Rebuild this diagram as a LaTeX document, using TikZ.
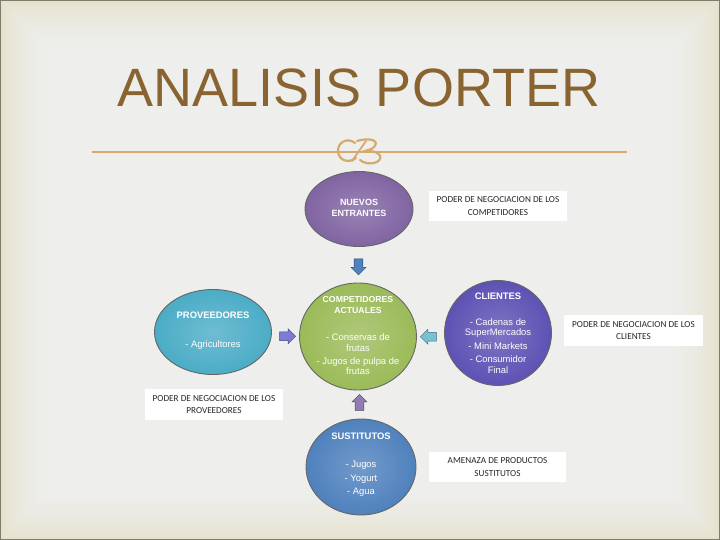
\documentclass[tikz,border=0pt]{standalone}
\usepackage{fontspec}
\setmainfont{Liberation Sans}
\newfontfamily\calib{Carlito}
\usetikzlibrary{shapes.geometric,shapes.arrows,calc}
\definecolor{bgc}{HTML}{EEEEED}
\definecolor{bgedge}{HTML}{E2E0C6}
\definecolor{framec}{HTML}{7D7D69}
\definecolor{titlec}{HTML}{8A6430}
\definecolor{rulec}{HTML}{D6AA6C}
\definecolor{cpurple}{HTML}{8064A2}
\definecolor{cgreen}{HTML}{9BBB59}
\definecolor{cindigo}{HTML}{5D52B4}
\definecolor{cteal}{HTML}{4BACC6}
\definecolor{cblue}{HTML}{4F81BD}
\definecolor{clav}{HTML}{7C7CD4}
\tikzset{
  force/.style={ellipse, draw=black!60, line width=0.9pt, inner color=#1!80!white, outer color=#1, inner sep=0pt},
  ftext/.style={text=white, align=center, inner sep=0pt, font=\fontsize{9.4}{10.5}\selectfont},
  blockarr/.style={single arrow, draw=#1!55!black, fill=#1, line width=0.4pt, minimum height=16pt, minimum width=15pt, single arrow head extend=3pt, inner sep=4pt},
  lbl/.style={fill=white, font=\calib\fontsize{9.2}{12.5}\selectfont, align=center, text=black!85, minimum width=138pt, minimum height=30pt, inner sep=0pt},
}
\begin{document}
\begin{tikzpicture}[x=1pt,y=-1pt]
\useasboundingbox (0,0) rectangle (720,540);
% background
\fill[bgedge] (0,0) rectangle (720,540);
\foreach \i in {1,...,40} {
  \pgfmathtruncatemacro{\p}{100*sqrt(\i/40)}
  \fill[bgc!\p!bgedge] (\i*1.2,\i*1.2) rectangle (720-\i*1.2,540-\i*1.2);
}
\draw[framec,line width=2.4pt] (0,0) rectangle (720,540);
% title
\node[text=titlec, font=\fontsize{54}{60}\selectfont, inner sep=0pt] (title) at (359,88) {ANALISIS PORTER};
\draw[rulec, line width=1.5pt] (92,152) -- (627,152);
% ornament
\draw[rulec, line width=2.2pt, line cap=round] (355,143) .. controls (348,137) and (337,142) .. (338,152) .. controls (339,160) and (348,164) .. (356,158);
\draw[rulec, line width=2.2pt, line cap=round] (357,141) .. controls (367,138) and (379,139) .. (375,146) .. controls (372,150) and (367,150) .. (365,151) .. controls (378,150) and (385,157) .. (377,162) .. controls (371,165) and (363,163) .. (360,160);
\draw[rulec, line width=1.8pt, line cap=round] (352,161) -- (366,141);
% forces
\node[force=cpurple, minimum width=108pt, minimum height=75pt] (nuevos) at (359,209) {};
\node[force=cgreen, minimum width=117pt, minimum height=107pt] (comp) at (358,336.5) {};
\node[force=cindigo, minimum width=107pt, minimum height=105pt] (cli) at (498,333) {};
\node[force=cteal, minimum width=117pt, minimum height=85pt] (prov) at (213,332) {};
\node[force=cblue, minimum width=110pt, minimum height=96pt] (sust) at (361,467) {};
% texts
\node[ftext, font=\bfseries\fontsize{9}{11}\selectfont] (nuevos-t) at ($(nuevos.center)+(0,-1)$) {NUEVOS\\ENTRANTES};
\node[ftext] (comp-t) at (358,336) {\textbf{\fontsize{8.7}{10}\selectfont COMPETIDORES}\\\textbf{\fontsize{8.7}{10}\selectfont ACTUALES}\\[17pt]- Conservas de\\frutas\\[2.5pt]- Jugos de pulpa de\\frutas};
\node[ftext] (cli-t) at (498,333) {\textbf{CLIENTES}\\[15.5pt]- Cadenas de\\SuperMercados\\[3.5pt]- Mini Markets\\[2.5pt]- Consumidor\\Final};
\node[ftext] (prov-t) at (213,331) {\textbf{PROVEEDORES}\\[18.5pt]- Agricultores};
\node[ftext] (sust-t) at (361,464.5) {\textbf{SUSTITUTOS}\\[17.5pt]- Jugos\\[3.5pt]- Yogurt\\[2.5pt]- Agua};
% block arrows
\node[blockarr=cblue, shape border rotate=270] (a-down) at ($(nuevos.south)!0.5!(comp.north)$) {};
\node[blockarr=clav] (a-right) at ($(prov.east)!0.5!(comp.west)+(0,2)$) {};
\node[blockarr=cteal!75!white, shape border rotate=180] (a-left) at ($(cli.west)!0.5!(comp.east)+(0,2)$) {};
\node[blockarr=cpurple!85!white, shape border rotate=90] (a-up) at ($(comp.south)!0.5!(sust.north)$) {};
% labels
\node[lbl] (l-comp) at (498,206) {PODER DE NEGOCIACION DE LOS\\COMPETIDORES};
\node[lbl, minimum width=139pt, minimum height=31pt] (l-cli) at (633.5,330.5) {PODER DE NEGOCIACION DE LOS\\CLIENTES};
\node[lbl, minimum height=31pt] (l-prov) at (214,404.5) {PODER DE NEGOCIACION DE LOS\\PROVEEDORES};
\node[lbl, minimum width=137pt] (l-sust) at (497.5,467) {AMENAZA DE PRODUCTOS\\SUSTITUTOS};
\end{tikzpicture}
\end{document}
